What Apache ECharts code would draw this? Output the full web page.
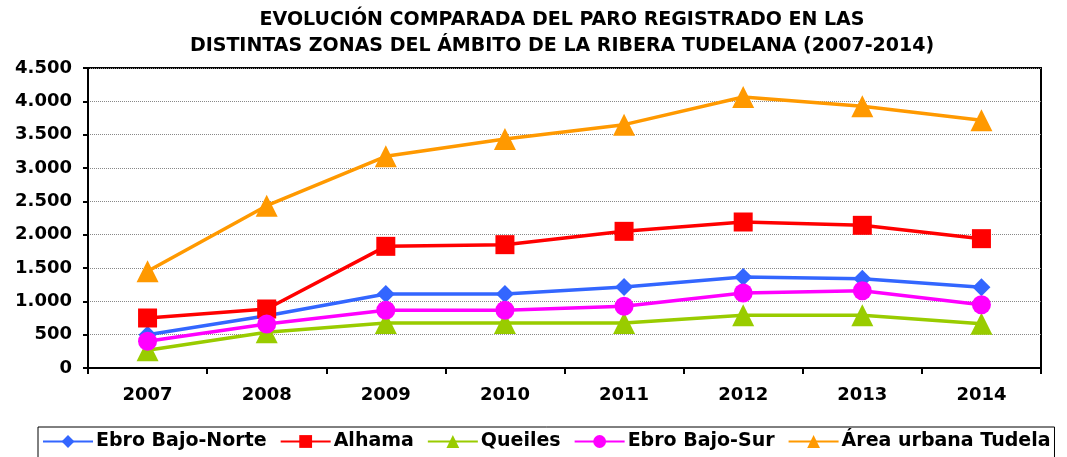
<!DOCTYPE html>
<html>
<head>
<meta charset="utf-8">
<script src="https://cdn.jsdelivr.net/npm/echarts@6/dist/echarts.min.js"></script>
<style>
    html, body {margin: 0; padding: 0; background: #fff;}
    #chart {width: 1067px; height: 457px;}
</style>
</head>
<body>
<div id="chart"></div>
<script>
var years = ['2007', '2008', '2009', '2010', '2011', '2012', '2013', '2014'];

var ebroBajoNorte = [500, 785, 1110, 1110, 1215, 1365, 1340, 1210];
var alhama = [750, 885, 1825, 1850, 2050, 2190, 2140, 1940];
var queiles = [265, 535, 675, 675, 675, 790, 790, 665];
var ebroBajoSur = [400, 660, 865, 865, 925, 1125, 1160, 950];
var areaUrbana = [1450, 2435, 3175, 3435, 3650, 4065, 3925, 3715];

var yTicks = [0, 500, 1000, 1500, 2000, 2500, 3000, 3500, 4000, 4500];

var font = 'Verdana, "DejaVu Sans", sans-serif';

function miles(v) {
    // 4500 -> 4.500
    return String(v).replace(/\B(?=(\d{3})+(?!\d))/g, '.');
}

function serie(name, data, color, symbol, size) {
    return {
        name: name,
        type: 'line',
        data: data,
        symbol: symbol,
        symbolSize: size,
        lineStyle: {color: color, width: 3.5},
        itemStyle: {color: color},
        animation: false
    };
}

var myChart = echarts.init(document.getElementById('chart'));

var option = {
    backgroundColor: '#fff',
    title: {
        text: 'EVOLUCIÓN COMPARADA DEL PARO REGISTRADO EN LAS\nDISTINTAS ZONAS DEL ÁMBITO DE LA RIBERA TUDELANA (2007-2014)',
        left: 557,
        textAlign: 'center',
        top: 2,
        textStyle: {
            fontFamily: font,
            fontSize: 19,
            fontWeight: 'bold',
            color: '#000',
            lineHeight: 26
        }
    },
    legend: {
        left: 38,
        top: 427,
        padding: [5, 4, 12, 4],
        borderColor: '#000',
        borderWidth: 1,
        itemGap: 13,
        itemWidth: 50,
        itemHeight: 16,
        textStyle: {fontFamily: font, fontSize: 19, fontWeight: 'bold', color: '#000', padding: [0, 0, 0, -2]},
        data: ['Ebro Bajo-Norte', 'Alhama', 'Queiles', 'Ebro Bajo-Sur', 'Área urbana Tudela']
    },
    grid: {left: 88, right: 26, top: 68, bottom: 89},
    xAxis: {
        type: 'category',
        data: years,
        boundaryGap: true,
        axisLine: {lineStyle: {color: '#000', width: 2}},
        axisTick: {show: true, length: 6, lineStyle: {color: '#000', width: 2}},
        axisLabel: {
            margin: 18,
            fontFamily: font,
            fontSize: 18,
            fontWeight: 'bold',
            color: '#000'
        },
        splitLine: {show: false}
    },
    yAxis: {
        type: 'value',
        min: yTicks[0],
        max: yTicks[yTicks.length - 1],
        interval: 500,
        axisLine: {show: true, lineStyle: {color: '#000', width: 2}},
        axisTick: {show: true, length: 5, lineStyle: {color: '#000', width: 2}},
        axisLabel: {
            margin: 16,
            fontFamily: font,
            fontSize: 18,
            fontWeight: 'bold',
            color: '#000',
            formatter: miles
        },
        splitLine: {show: true, lineStyle: {color: '#888', type: 'dotted', width: 1}}
    },
    graphic: [
        {
            type: 'rect',
            shape: {x: 88, y: 68, width: 953, height: 300},
            style: {fill: 'none', stroke: '#000', lineWidth: 2},
            silent: true
        }
    ],
    series: [
        serie('Ebro Bajo-Norte', ebroBajoNorte, '#3366ff', 'diamond', 18),
        serie('Alhama', alhama, '#ff0000', 'rect', 19),
        serie('Queiles', queiles, '#99cc00', 'triangle', 22),
        serie('Ebro Bajo-Sur', ebroBajoSur, '#ff00ff', 'circle', 19),
        serie('Área urbana Tudela', areaUrbana, '#ff9900', 'triangle', 22)
    ]
};

myChart.setOption(option);
</script>
</body>
</html>
